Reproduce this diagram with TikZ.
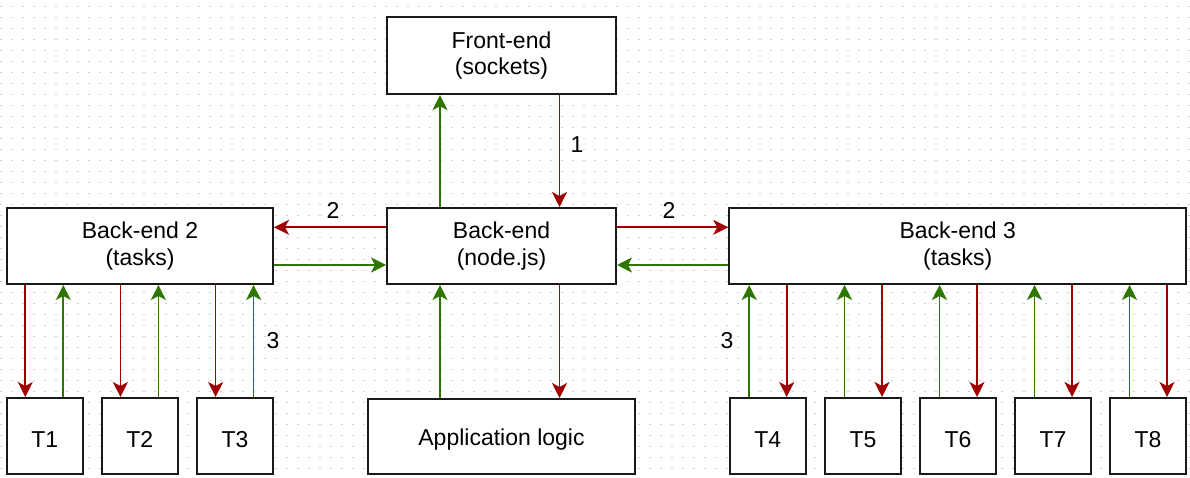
\documentclass[tikz,border=0pt]{standalone}
\usepackage{fontspec}
\setmainfont{Liberation Sans}
\usetikzlibrary{arrows.meta}
\definecolor{rarrc}{HTML}{A00000}
\definecolor{garrc}{HTML}{2D7600}
\definecolor{dotc}{HTML}{D0D0D0}
\tikzset{
  box/.style={draw=black!90, fill=white, line width=2pt, inner sep=0pt, align=center,
    font=\fontsize{23}{26.5}\selectfont, execute at begin node={\rule{0pt}{23pt}}},
  lbl/.style={inner sep=0pt, font=\fontsize{23}{26}\selectfont},
  rarr/.style={draw=rarrc, line width=1.7pt, -{Stealth[length=15pt,width=15pt,inset=4pt]}},
  garr/.style={draw=garrc, line width=1.7pt, -{Stealth[length=15pt,width=15pt,inset=4pt]}},
}
\begin{document}
\begin{tikzpicture}[x=1pt,y=-1pt]
\useasboundingbox (0,0) rectangle (1190,478);
\fill[white] (0,0) rectangle (1190,478);
% dotted grid
\foreach \i in {0,...,108}{
  \foreach \j in {0,...,42}{
    \fill[dotc] ({1+11*\i-0.6},{6.7+11*\j-0.6}) rectangle ++(1.2,1.2);
  }
}
% nodes
\node[box, minimum width=229pt, minimum height=77pt] (fe) at (501.5,55.7) {Front-end\\(sockets)};
\node[box, minimum width=229pt, minimum height=76pt] (be) at (501.5,246) {Back-end\\(node.js)};
\node[box, minimum width=266pt, minimum height=76pt] (be2) at (140,246) {Back-end 2\\(tasks)};
\node[box, minimum width=457pt, minimum height=76pt] (be3) at (957.7,246) {Back-end 3\\(tasks)};
\node[box, minimum width=267pt, minimum height=75pt] (app) at (501.5,436.5) {Application logic};
\foreach \n/\x in {1/44.7,2/139.8,3/235,4/767.7,5/863,6/958,7/1053,8/1148}{
  \node[box, minimum width=76pt, minimum height=76pt] (t\n) at (\x,436) {T\n};
}
% centre
\draw[garr] ([xshift=-61.5pt]be.north) -- ([xshift=-61.5pt]fe.south);
\draw[rarr] ([xshift=58pt]fe.south) -- ([xshift=58pt]be.north);
\draw[garr] ([xshift=-61.5pt]app.north) -- ([xshift=-61.5pt]be.south);
\draw[rarr] ([xshift=58pt]be.south) -- ([xshift=58pt]app.north);
% horizontal
\draw[rarr] ([yshift=18.7pt]be.west) -- ([yshift=18.7pt]be2.east);
\draw[garr] ([yshift=-19pt]be2.east) -- ([yshift=-19pt]be.west);
\draw[rarr] ([yshift=18.7pt]be.east) -- ([yshift=18.7pt]be3.west);
\draw[garr] ([yshift=-19pt]be3.west) -- ([yshift=-19pt]be.east);
% left tasks
\foreach \n in {1,2,3}{
  \draw[rarr] ([xshift=-19.4pt]t\n.north |- be2.south) -- ([xshift=-19.4pt]t\n.north);
  \draw[garr] ([xshift=18.6pt]t\n.north) -- ([xshift=18.6pt]t\n.north |- be2.south);
}
% right tasks
\foreach \n in {4,5,6,7,8}{
  \draw[garr] ([xshift=-18.5pt]t\n.north) -- ([xshift=-18.5pt]t\n.north |- be3.south);
  \draw[rarr] ([xshift=19pt]t\n.north |- be3.south) -- ([xshift=19pt]t\n.north);
}
% labels
\node[lbl] (l1) at (577,145) {1};
\node[lbl] (l2a) at (333,210) {2};
\node[lbl] (l2b) at (669,210) {2};
\node[lbl] (l3a) at (273,341) {3};
\node[lbl] (l3b) at (727,341) {3};
\end{tikzpicture}
\end{document}
